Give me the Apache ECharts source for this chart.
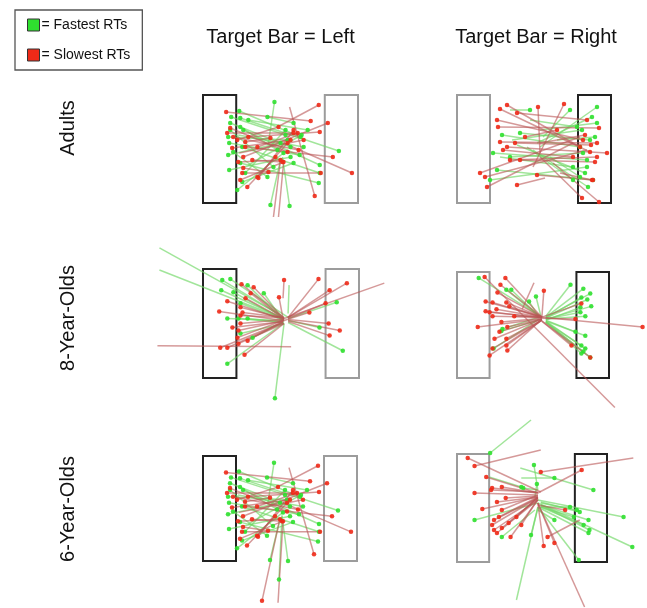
<!DOCTYPE html>
<html>
<head>
<meta charset="utf-8">
<script src="https://cdn.jsdelivr.net/npm/echarts@6/dist/echarts.min.js"></script>
<style>
  html, body { margin: 0; background: #fff; }
  #chart { width: 647px; height: 608px; }
</style>
</head>
<body>
<div id="chart"></div>
<script>
// labels
const colTitles = ['Target Bar = Left', 'Target Bar = Right']
const rowLabels = ['Adults', '8-Year-Olds', '6-Year-Olds']
const legendNames = ['= Fastest RTs', '= Slowest RTs']

// bar frame in panel units (x: 0..154, y: 0..108)
const leftBar = [0, 33]
const rightBar = [121, 154]
const barTopBottom = [0, 108]
const targetSide = ['left', 'right', 'left', 'right', 'left', 'right']

// trajectories: [x1, y1, x2, y2, dots] dots: 0 none, 1 at end, 2 both ends
const adultsLeftFast = [
  [65, 48, 71, 7, 1], [77, 65, 67, 110, 1], [79, 62, 86, 111, 1], [36, 16, 97, 42, 2],
  [27, 28, 87, 52, 2], [25, 42, 84, 45, 2], [25, 60, 77, 48, 2], [26, 75, 87, 62, 2],
  [34, 95, 80, 58, 2], [37, 23, 135, 56, 2], [40, 35, 116, 70, 2], [39, 52, 116, 78, 2],
  [37, 68, 115, 88, 2], [64, 22, 90, 28, 2], [42, 78, 82, 35, 2], [37, 32, 74, 55, 2],
  [27, 35, 70, 72, 2], [39, 87, 90, 68, 2], [45, 25, 104, 35, 2], [30, 57, 64, 82, 2],
  [26, 48, 96, 60, 2], [35, 40, 100, 52, 1], [45, 70, 98, 40, 1], [28, 22, 82, 40, 2]
]
const adultsLeftSlow = [
  [23, 17, 107, 26, 2], [74, 32, 115, 10, 1], [86, 12, 111, 101, 1], [40, 62, 124, 28, 2],
  [80, 48, 148, 78, 1], [42, 52, 129, 62, 2], [77, 65, 70, 122, 0], [80, 68, 75, 122, 0],
  [24, 38, 90, 38, 2], [27, 33, 84, 57, 2], [29, 53, 87, 45, 2], [35, 67, 77, 65, 2],
  [37, 85, 80, 67, 2], [39, 78, 117, 78, 2], [44, 92, 72, 62, 2], [54, 82, 84, 48, 2],
  [45, 42, 116, 37, 2], [34, 45, 75, 32, 2], [54, 52, 94, 38, 2], [40, 73, 65, 77, 2],
  [49, 65, 79, 67, 2], [42, 47, 67, 43, 2], [55, 83, 90, 35, 2], [30, 42, 95, 55, 2],
  [36, 58, 100, 45, 1]
]
const adultsRightFast = [
  [83, 52, 140, 12, 1], [80, 48, 135, 22, 1], [86, 42, 113, 15, 1], [45, 40, 123, 52, 2],
  [36, 58, 130, 65, 2], [33, 85, 130, 72, 2], [40, 75, 136, 85, 2], [63, 38, 133, 45, 2],
  [76, 55, 131, 92, 1], [93, 62, 123, 82, 1], [73, 25, 120, 32, 1], [53, 62, 126, 58, 2],
  [83, 35, 140, 28, 1], [100, 45, 138, 42, 1], [53, 15, 73, 15, 1], [70, 52, 116, 85, 1],
  [43, 62, 116, 72, 1], [60, 50, 128, 78, 1], [55, 45, 125, 35, 1]
]
const adultsRightSlow = [
  [50, 10, 123, 52, 2], [43, 14, 133, 57, 2], [40, 25, 126, 45, 2], [41, 32, 142, 33, 2],
  [83, 58, 81, 12, 1], [76, 72, 107, 9, 1], [123, 42, 23, 78, 1], [130, 55, 28, 82, 1],
  [116, 48, 30, 92, 1], [88, 83, 60, 90, 1], [83, 62, 125, 103, 1], [96, 68, 142, 107, 1],
  [43, 47, 140, 48, 2], [50, 52, 150, 58, 2], [63, 65, 138, 67, 2], [46, 55, 116, 62, 2],
  [60, 18, 130, 25, 2], [80, 80, 136, 85, 2], [103, 78, 135, 85, 1], [83, 48, 128, 40, 1],
  [53, 65, 140, 62, 2], [68, 42, 100, 35, 2], [58, 48, 134, 50, 2]
]
const eightLeftFast = [
  [-43, -21, 77, 46, 0], [-43, 1, 79, 49, 0], [80, 48, 19, 11, 1], [84, 48, 27, 10, 1],
  [80, 49, 18, 21, 1], [80, 51, 30, 23, 1], [80, 51, 24, 49, 1], [79, 53, 35, 49, 1],
  [80, 53, 44, 49, 1], [79, 54, 24, 94, 1], [80, 54, 71, 128, 1], [84, 44, 85, 16, 0],
  [84, 49, 132, 33, 1], [84, 51, 115, 58, 1], [84, 53, 138, 81, 1], [77, 48, 44, 16, 1],
  [79, 51, 60, 24, 1], [79, 53, 49, 68, 1], [80, 54, 37, 64, 1], [80, 51, 37, 34, 1]
]
const eightLeftSlow = [
  [-45, 76, 87, 77, 0], [80, 49, 179, 14, 0], [80, 49, 38, 15, 1], [80, 49, 50, 18, 1],
  [80, 50, 24, 32, 1], [79, 51, 16, 42, 1], [79, 52, 29, 58, 1], [79, 53, 17, 78, 1],
  [79, 53, 24, 78, 1], [80, 54, 41, 85, 1], [80, 54, 35, 74, 1], [79, 29, 80, 11, 1],
  [84, 48, 114, 10, 1], [84, 48, 142, 14, 1], [84, 48, 125, 21, 1], [84, 49, 121, 34, 1],
  [84, 50, 124, 54, 1], [84, 51, 135, 61, 1], [84, 52, 125, 66, 1], [80, 49, 37, 38, 1],
  [80, 48, 39, 43, 1], [80, 50, 37, 54, 1], [80, 51, 35, 61, 1], [74, 48, 37, 46, 1],
  [77, 48, 47, 24, 1], [79, 49, 75, 28, 1], [80, 51, 105, 43, 1], [80, 51, 44, 71, 1],
  [79, 51, 34, 68, 1], [80, 50, 42, 29, 1]
]
const eightRightFast = [
  [86, 46, 22, 6, 1], [90, 45, 115, 13, 1], [90, 46, 128, 17, 1], [90, 46, 135, 22, 1],
  [90, 47, 126, 26, 1], [90, 47, 132, 28, 1], [90, 48, 136, 35, 1], [90, 48, 125, 41, 1],
  [90, 49, 125, 36, 1], [90, 50, 130, 65, 1], [90, 50, 130, 78, 1], [90, 51, 128, 81, 1],
  [90, 51, 135, 87, 1], [90, 51, 126, 83, 1], [90, 49, 120, 61, 1], [83, 46, 46, 58, 1],
  [83, 48, 37, 78, 1], [83, 45, 55, 18, 1], [85, 45, 80, 25, 1], [83, 46, 73, 30, 1],
  [80, 50, 45, 60, 1], [83, 45, 50, 18, 1], [90, 48, 130, 45, 1], [90, 51, 126, 75, 1]
]
const eightRightSlow = [
  [160, 138, 28, 5, 1], [86, 46, 188, 56, 1], [66, 38, 78, 11, 0], [86, 46, 49, 6, 1],
  [86, 46, 44, 13, 1], [86, 46, 41, 21, 1], [86, 46, 29, 30, 1], [86, 47, 29, 40, 1],
  [86, 48, 21, 56, 1], [86, 46, 36, 31, 1], [86, 46, 33, 41, 1], [86, 48, 38, 68, 1],
  [86, 48, 51, 80, 1], [86, 49, 36, 78, 1], [86, 49, 50, 75, 1], [86, 49, 33, 85, 1],
  [86, 46, 88, 19, 1], [86, 46, 126, 32, 1], [86, 47, 120, 48, 1], [86, 50, 116, 75, 1],
  [86, 50, 135, 87, 1], [86, 46, 36, 45, 1], [86, 46, 40, 38, 1], [86, 47, 45, 51, 1],
  [86, 48, 43, 61, 1], [86, 46, 50, 31, 1], [86, 46, 58, 45, 1], [83, 45, 53, 35, 1],
  [86, 48, 51, 56, 1], [86, 49, 50, 68, 1]
]
const sixLeftFast = [
  [65, 48, 71, 7, 1], [77, 65, 67, 107, 1], [79, 62, 85, 108, 1], [79, 61, 76, 127, 1],
  [36, 16, 97, 42, 2], [27, 28, 87, 52, 2], [25, 42, 84, 45, 2], [25, 60, 77, 48, 2],
  [26, 75, 87, 62, 2], [34, 95, 80, 58, 2], [37, 23, 135, 56, 2], [40, 35, 116, 70, 2],
  [39, 52, 116, 78, 2], [37, 68, 115, 88, 2], [64, 22, 90, 28, 2], [42, 78, 82, 35, 2],
  [37, 32, 74, 55, 2], [27, 35, 70, 72, 2], [39, 87, 90, 68, 2], [45, 25, 104, 35, 2],
  [30, 57, 64, 82, 2], [26, 48, 96, 60, 2], [35, 40, 100, 52, 1], [45, 70, 98, 40, 1],
  [28, 22, 82, 40, 2]
]
const sixLeftSlow = [
  [23, 17, 107, 26, 2], [74, 32, 115, 10, 1], [86, 12, 111, 101, 1], [40, 62, 124, 28, 2],
  [80, 48, 148, 78, 1], [42, 52, 129, 62, 2], [77, 64, 59, 149, 1], [80, 67, 75, 151, 0],
  [24, 38, 90, 38, 2], [27, 33, 84, 57, 2], [29, 53, 87, 45, 2], [35, 67, 77, 65, 2],
  [37, 85, 80, 67, 2], [39, 78, 117, 78, 2], [44, 92, 72, 62, 2], [54, 82, 84, 48, 2],
  [45, 42, 116, 37, 2], [34, 45, 75, 32, 2], [54, 52, 94, 38, 2], [40, 73, 65, 77, 2],
  [49, 65, 79, 67, 2], [42, 47, 67, 43, 2], [55, 83, 90, 35, 2], [30, 42, 95, 55, 2],
  [36, 58, 100, 45, 1]
]
const sixRightFast = [
  [76, -34, 34, -1, 1], [83, 36, 79, 11, 1], [65, 14, 140, 36, 1], [66, 24, 100, 24, 1],
  [83, 46, 171, 63, 1], [83, 49, 180, 93, 1], [83, 53, 135, 79, 1], [83, 53, 125, 106, 1],
  [83, 53, 61, 146, 0], [80, 43, 82, 30, 1], [86, 49, 123, 56, 1], [86, 51, 135, 66, 1],
  [86, 53, 130, 71, 1], [86, 53, 120, 63, 1], [83, 56, 100, 66, 1], [83, 49, 18, 66, 1],
  [80, 56, 46, 83, 1], [83, 54, 76, 81, 1], [86, 51, 136, 76, 1], [83, 36, 68, 34, 1],
  [86, 48, 126, 58, 1], [85, 53, 116, 53, 1], [33, 23, 66, 33, 1]
]
const sixRightSlow = [
  [86, 38, 11, 4, 1], [86, -4, 18, 12, 1], [181, 4, 86, 18, 1], [83, 39, 128, 16, 1],
  [83, 49, 131, 153, 0], [83, 39, 30, 23, 1], [83, 41, 18, 39, 1], [83, 43, 26, 55, 1],
  [83, 39, 36, 34, 1], [83, 43, 41, 48, 1], [83, 44, 36, 71, 1], [83, 46, 38, 76, 1],
  [83, 46, 41, 79, 1], [83, 44, 46, 74, 1], [83, 46, 55, 83, 1], [83, 44, 53, 69, 1],
  [83, 43, 43, 63, 1], [83, 43, 61, 63, 1], [83, 41, 46, 56, 1], [83, 49, 89, 92, 1],
  [83, 49, 100, 89, 1], [83, 51, 111, 56, 1], [126, 66, 93, 83, 1], [83, 38, 35, 36, 1],
  [83, 44, 38, 66, 1], [83, 42, 50, 44, 1], [83, 39, 46, 33, 1], [83, 45, 66, 71, 1]
]

const panelSegments = [
  [adultsLeftFast, adultsLeftSlow], [adultsRightFast, adultsRightSlow],
  [eightLeftFast, eightLeftSlow], [eightRightFast, eightRightSlow],
  [sixLeftFast, sixLeftSlow], [sixRightFast, sixRightSlow]
]

// panel placement on the page: left, top, width, height
const panelBoxes = [
  [203, 95, 155, 108], [457, 95, 154, 108],
  [203, 269, 156, 109], [457, 272, 152, 106],
  [203, 456, 154, 105], [457, 454, 150, 108]
]
const rowLabelY = [128, 318, 509]

const FONT = '"Liberation Sans", Arial, sans-serif'
const lineColors = ['rgba(110, 215, 100, 0.65)', 'rgba(185, 85, 85, 0.6)']
const dotColors = ['#2fe02f', '#ee2a18']

function dotsOf(segs) {
  const pts = []
  segs.forEach(s => {
    if (s[4] === 2) pts.push([s[0], s[1]])
    if (s[4] >= 1) pts.push([s[2], s[3]])
  })
  return pts
}

const chart = echarts.init(document.getElementById('chart'))

const grid = panelBoxes.map(b => ({ left: b[0], top: b[1], width: b[2], height: b[3] }))
const xAxis = panelBoxes.map((b, i) => ({ gridIndex: i, type: 'value', min: 0, max: 154, show: false }))
const yAxis = panelBoxes.map((b, i) => ({ gridIndex: i, type: 'value', min: 0, max: 108, inverse: true, show: false }))

const series = []
panelSegments.forEach((pair, i) => {
  // the two bars
  series.push({
    type: 'custom',
    xAxisIndex: i,
    yAxisIndex: i,
    silent: true,
    data: [
      [leftBar[0], leftBar[1], targetSide[i] === 'left' ? 1 : 0],
      [rightBar[0], rightBar[1], targetSide[i] === 'right' ? 1 : 0]
    ],
    renderItem: (params, api) => {
      const p0 = api.coord([api.value(0), barTopBottom[0]])
      const p1 = api.coord([api.value(1), barTopBottom[1]])
      const isTarget = api.value(2) === 1
      return {
        type: 'rect',
        shape: { x: p0[0], y: p0[1], width: p1[0] - p0[0], height: p1[1] - p0[1] },
        style: { fill: 'none', stroke: isTarget ? '#222' : '#9c9c9c', lineWidth: 2 }
      }
    }
  })
  // trajectory lines
  pair.forEach((segs, k) => {
    series.push({
      type: 'custom',
      xAxisIndex: i,
      yAxisIndex: i,
      silent: true,
      clip: false,
      data: segs,
      renderItem: (params, api) => {
        const a = api.coord([api.value(0), api.value(1)])
        const b = api.coord([api.value(2), api.value(3)])
        return {
          type: 'line',
          shape: { x1: a[0], y1: a[1], x2: b[0], y2: b[1] },
          style: { stroke: lineColors[k], lineWidth: 1.5 }
        }
      }
    })
  })
  // end points
  pair.forEach((segs, k) => {
    series.push({
      type: 'scatter',
      name: legendNames[k],
      xAxisIndex: i,
      yAxisIndex: i,
      silent: true,
      clip: false,
      symbolSize: 4.5,
      itemStyle: { color: dotColors[k], opacity: 0.9 },
      data: dotsOf(segs)
    })
  })
})

const graphic = []
colTitles.forEach((t, c) => {
  const b = panelBoxes[c]
  graphic.push({
    type: 'text',
    x: b[0] + b[2] / 2 + (c === 1 ? 2 : 0),
    y: 37,
    style: { text: t, font: '20px ' + FONT, fill: '#111', align: 'center', verticalAlign: 'middle' }
  })
})
rowLabels.forEach((t, r) => {
  graphic.push({
    type: 'text',
    x: 68,
    y: rowLabelY[r],
    rotation: Math.PI / 2,
    style: { text: t, font: '20px ' + FONT, fill: '#111', align: 'center', verticalAlign: 'middle' }
  })
})

chart.setOption({
  animation: false,
  backgroundColor: '#fff',
  grid,
  xAxis,
  yAxis,
  legend: {
    orient: 'vertical',
    left: 15,
    top: 10,
    padding: [8, 12, 8, 12],
    itemWidth: 12,
    itemHeight: 12,
    itemGap: 16,
    selectedMode: false,
    borderColor: '#555',
    borderWidth: 1.3,
    textStyle: { fontSize: 14, fontFamily: FONT, color: '#111', padding: [0, 0, 0, -3] },
    data: legendNames.map((n, k) => ({
      name: n,
      icon: 'rect',
      itemStyle: { color: dotColors[k], borderColor: '#333', borderWidth: 1, opacity: 1 }
    }))
  },
  graphic,
  series
})
</script>
</body>
</html>
